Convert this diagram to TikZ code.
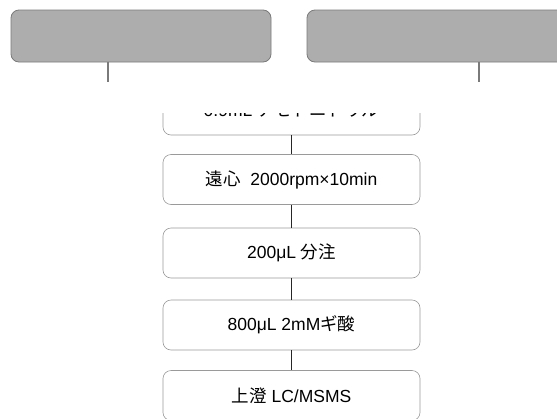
\documentclass[tikz,border=0pt]{standalone}
\usepackage{fontspec}
\setmainfont{Liberation Sans}
\newfontfamily\jp{Noto Sans CJK JP}
\definecolor{graybox}{HTML}{ADADAD}
\definecolor{grayedge}{HTML}{7A7A7A}
\definecolor{flowedge}{HTML}{9A9A9A}
\tikzset{
  px/.style={x=1pt,y=-1pt},
  topbox/.style={draw=grayedge, fill=graybox, line width=0.8pt, rounded corners=8pt, minimum height=52pt, inner sep=0pt},
  flowbox/.style={draw=flowedge, line width=0.6pt, rounded corners=8pt, minimum width=257pt, minimum height=50pt, inner sep=0pt, font=\fontsize{17.5}{19}\selectfont},
  link/.style={line width=1.8pt, black!85},
  toplink/.style={line width=2.2pt, grayedge},
}
\begin{document}
\begin{tikzpicture}[px]
\useasboundingbox (0,0) rectangle (557,418);
\clip (0,0) rectangle (557,418);
% top gray boxes
\node[topbox, minimum width=260pt] (gl) at (141,36) {};
\node[topbox, minimum width=300pt] (gr) at (457,36) {};
\coordinate (gle) at (108,82);
\coordinate (gre) at (479,82);
\draw[toplink] (gl.south -| gle) -- (gle);
\draw[toplink] (gr.south -| gre) -- (gre);
% flow
\node[flowbox] (b1) at (291.5,110) {0.9mL {\jp アセトニトリル}};
\node[flowbox] (b2) at (291.5,179.5) {{\jp 遠心}\ \ 2000rpm×10min};
\node[flowbox] (b3) at (291.5,253) {200μL {\jp 分注}};
\node[flowbox] (b4) at (291.5,325) {800μL 2mM{\jp ギ酸}};
\node[flowbox] (b5) at (291.5,395.5) {{\jp 上澄} LC/MSMS};
\draw[link] (b1) -- (b2);
\draw[link] (b2) -- (b3);
\draw[link] (b3) -- (b4);
\draw[link] (b4) -- (b5);
% band that hides the top of the first step
\fill[white] (150,83) rectangle (430,112.5);
\end{tikzpicture}
\end{document}
